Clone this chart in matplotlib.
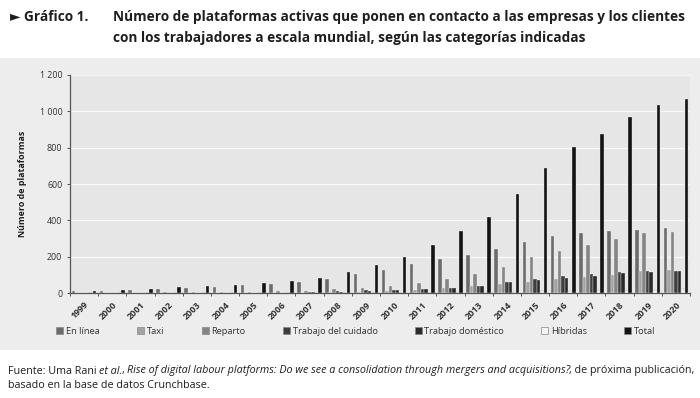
import matplotlib
matplotlib.use('Agg')
import matplotlib.pyplot as plt
from matplotlib import font_manager as fm
from matplotlib.patches import Rectangle, Patch
import numpy as np

# ---------------- data ----------------
years = [str(y) for y in range(1999, 2021)]
series_names = ['En línea', 'Taxi', 'Reparto', 'Trabajo del cuidado',
                'Trabajo doméstico', 'Híbridas', 'Total']
en_linea = [10, 14, 18, 22, 27, 33, 44, 51, 60, 76, 104, 128, 162, 187, 209, 244, 280, 315, 329, 341, 348, 357]
taxi = [0, 0, 1, 1, 1, 2, 2, 3, 4, 6, 8, 12, 18, 27, 40, 51, 64, 79, 88, 101, 120, 126]
reparto = [2, 3, 4, 5, 6, 7, 8, 10, 15, 26, 27, 38, 54, 81, 108, 143, 198, 233, 264, 299, 331, 339]
cuidado = [1, 1, 1, 2, 2, 3, 3, 4, 6, 10, 16, 18, 23, 29, 40, 60, 79, 95, 105, 118, 123, 125]
domestico = [1, 1, 1, 2, 2, 2, 3, 4, 5, 8, 14, 16, 21, 28, 38, 60, 71, 84, 95, 110, 115, 122]
hibridas = [0, 0, 0, 0, 0, 1, 1, 1, 1, 2, 2, 3, 4, 5, 7, 9, 11, 14, 16, 18, 20, 22]
total = [14, 20, 26, 32, 38, 45, 57, 70, 86, 117, 156, 198, 264, 343, 418, 547, 690, 802, 875, 970, 1036, 1067]
ytick_values = [0, 200, 400, 600, 800, 1000, 1200]
ytick_labels = ['0', '200', '400', '600', '800', '1 000', '1 200']

title_label = '\u25BA Gráfico 1.'
title_lines = ['Número de plataformas activas que ponen en contacto a las empresas y los clientes',
               'con los trabajadores a escala mundial, según las categorías indicadas']
ylabel = 'Número de plataformas'

# ---------------- style ----------------
def pick(cands):
    for c in cands:
        try:
            fm.findfont(fm.FontProperties(family=c), fallback_to_default=False)
            return c
        except Exception:
            pass
    return 'DejaVu Sans'

FONT = pick(['Open Sans', 'Noto Sans', 'DejaVu Sans'])
plt.rcParams['font.family'] = [FONT, 'DejaVu Sans']

colors = ['#6c6c6c', '#a3a3a3', '#858585', '#3e3e3e', '#2a2a2a', '#f4f4f4', '#141414']
edges = ['#f2f2f2'] * 5 + ['#9a9a9a', '#f2f2f2']
txt_col = '#1e1e1e'

W, H = 700, 398
fig = plt.figure(figsize=(W / 100, H / 100), dpi=100)
fig.patch.set_facecolor('white')

# gray chart panel
fig.patches.append(Rectangle((0, (H - 350) / H), 1, (350 - 58) / H,
                             transform=fig.transFigure, facecolor='#ededed',
                             edgecolor='none', zorder=-5))

ax = fig.add_axes([70 / W, (H - 293.3) / H, 620 / W, (293.3 - 74.7) / H])
ax.set_zorder(2)
ax.set_facecolor('#e6e6e6')

series = [en_linea, taxi, reparto, cuidado, domestico, hibridas, total]
n = len(years)
x = np.arange(n) + 0.5
step = 0.125
bw = 0.125
for k, (vals, name) in enumerate(zip(series, series_names)):
    ax.bar(x + (k - 3) * step, vals, width=bw, color=colors[k],
           edgecolor=edges[k], linewidth=0.25, label=name, zorder=3)

ax.set_xlim(0, n)
ax.set_ylim(0, 1200)
ax.set_yticks(ytick_values)
ax.set_yticklabels(ytick_labels, fontsize=6.4, color='#333333')
ax.grid(axis='y', color='#f8f8f8', linewidth=0.9, zorder=0)
ax.set_axisbelow(True)

ax.set_xticks(x)
ax.set_xticklabels(years, rotation=45, ha='right', rotation_mode='anchor',
                   fontsize=6.5, fontweight='bold', color='#333333')
ax.tick_params(axis='x', which='major', length=0, pad=5)
ax.set_xticks(np.arange(n + 1), minor=True)
ax.tick_params(axis='x', which='minor', length=2.5, width=0.7, color='#555555')
ax.tick_params(axis='y', length=2.5, width=0.7, color='#555555', pad=3)

for s in ['top', 'right']:
    ax.spines[s].set_visible(False)
for s in ['left', 'bottom']:
    ax.spines[s].set_color('#555555')
    ax.spines[s].set_linewidth(0.9)

ax.set_ylabel(ylabel, fontsize=6.4, fontweight='bold', color=txt_col, labelpad=9)

# legend
handles = [Patch(facecolor=colors[k], edgecolor='#888888', linewidth=0.5) for k in range(7)]
fig.legend(handles, series_names, ncol=7, loc='center', frameon=False,
           bbox_to_anchor=(356 / W, (H - 331) / H), fontsize=6.7,
           handlelength=0.75, handleheight=0.75, handletextpad=0.3,
           columnspacing=4.0, labelcolor='#333333')

# title
TFS = 9.85
fig.text(10 / W, (H - 17) / H, title_label, fontsize=TFS, fontweight='bold',
         color=txt_col, va='center', ha='left')
fig.text(113 / W, (H - 17) / H, title_lines[0], fontsize=TFS, fontweight='bold',
         color=txt_col, va='center', ha='left')
fig.text(113 / W, (H - 38) / H, title_lines[1], fontsize=TFS, fontweight='bold',
         color=txt_col, va='center', ha='left')

# source (mixed styles)
fig.canvas.draw()
r = fig.canvas.get_renderer()
SRC_FS = 7.76

def width_px(s, style):
    t = fig.text(0, 0, s, fontsize=SRC_FS, fontstyle=style)
    w = t.get_window_extent(renderer=r).width
    t.remove()
    return w

space_w = width_px('a a', 'normal') - width_px('aa', 'normal')

def draw_pieces(pieces, x0, y):
    xp = x0
    for txt, style, adj in pieces:
        lead = len(txt) - len(txt.lstrip(' '))
        trail = len(txt) - len(txt.rstrip(' '))
        core = txt.strip(' ')
        xp += lead * space_w
        if core:
            t = fig.text(xp / W, (H - y) / H, core, fontsize=SRC_FS, fontstyle=style,
                         color=txt_col, va='center', ha='left')
            xp += t.get_window_extent(renderer=r).width + adj
        xp += trail * space_w

draw_pieces([('Fuente: Uma Rani ', 'normal', 0), ('et al.', 'italic', -1.5), (', ', 'normal', 0),
             ('Rise of digital labour platforms: Do we see a consolidation through mergers and acquisitions?', 'italic', -1),
             (', de próxima publicación,', 'normal', 0)], 8, 371)
draw_pieces([('basado en la base de datos Crunchbase.', 'normal', 0)], 8, 386)

fig.savefig('out.png', dpi=100)
